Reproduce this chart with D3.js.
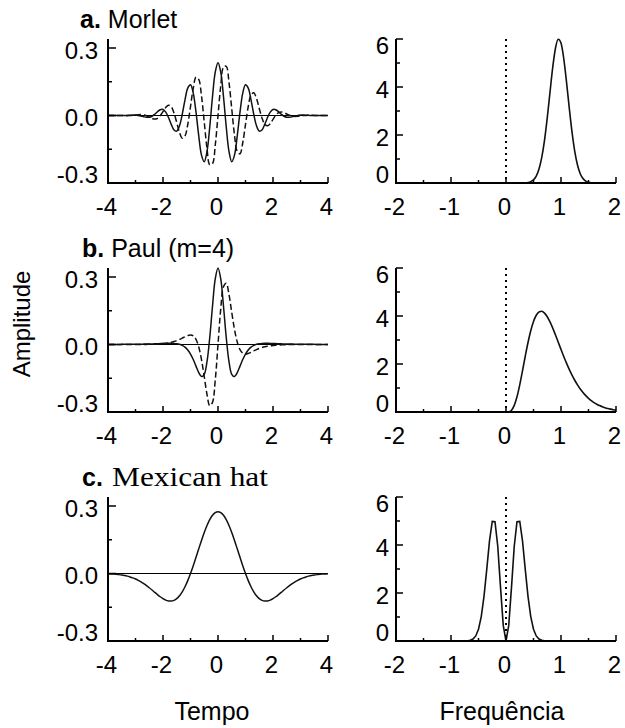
<!DOCTYPE html>
<html><head><meta charset="utf-8">
<script src="https://cdn.jsdelivr.net/npm/d3@7"></script>
<style>
body{margin:0;background:#fff;}
svg text{font-family:"Liberation Sans", Arial, sans-serif; fill:#000;}
</style></head>
<body><svg id="chart" width="625" height="728"></svg>
<script>
// ---------------- data ----------------
const tempo = [-4.0,-3.9,-3.8,-3.7,-3.6,-3.5,-3.4,-3.3,-3.2,-3.1,-3.0,-2.9,-2.8,-2.7,-2.6,-2.5,-2.4,-2.3,-2.2,-2.1,-2.0,-1.9,-1.8,-1.7,-1.6,-1.5,-1.4,-1.3,-1.2,-1.1,-1.0,-0.9,-0.8,-0.7,-0.6,-0.5,-0.4,-0.3,-0.2,-0.1,0,0.1,0.2,0.3,0.4,0.5,0.6,0.7,0.8,0.9,1.0,1.1,1.2,1.3,1.4,1.5,1.6,1.7,1.8,1.9,2.0,2.1,2.2,2.3,2.4,2.5,2.6,2.7,2.8,2.9,3.0,3.1,3.2,3.3,3.4,3.5,3.6,3.7,3.8,3.9,4.0];

const morletReal = [0,0,0,0,0,0,
 0,0.0006,0.0013,0.0019,0.0017,
 0.0004,-0.0022,-0.0054,-0.0080,-0.0078,-0.0034,0.0055,0.0168,0.0259,0.0268,
 0.0151,-0.0090,-0.0396,-0.0643,-0.0695,-0.0458,0.0055,0.0696,0.1219,0.1368,
 0.0995,0.0149,-0.0902,-0.1760,-0.2053,-0.1599,-0.0511,0.0835,0.1930,
 0.235,
 0.1930,0.0835,-0.0511,-0.1599,-0.2053,-0.1760,-0.0902,0.0149,0.0995,
 0.1368,0.1219,0.0696,0.0055,-0.0458,-0.0695,-0.0643,-0.0396,-0.0090,0.0151,
 0.0268,0.0259,0.0168,0.0055,-0.0034,-0.0078,-0.0080,-0.0054,-0.0022,0.0004,
 0.0017,0.0019,0.0013,0.0006,0,
 0,0,0,0,0,0];

const morletImag = [0,0,0,0,0,-0.0004,
 -0.0007,-0.0008,-0.0005,0.0005,0.0020,
 0.0035,0.0042,0.0029,-0.0009,-0.0067,-0.0127,-0.0158,-0.0124,-0.0009,0.0171,
 0.0356,0.0456,0.0388,0.0114,-0.0314,-0.0754,-0.1008,-0.0908,-0.0400,0.0398,
 0.1211,0.1700,0.1603,0.0869,-0.0293,-0.1465,-0.2188,-0.2146,-0.1320,
 0,
 0.1320,0.2146,0.2188,0.1465,0.0293,-0.0869,-0.1603,-0.1700,-0.1211,
 -0.0398,0.0400,0.0908,0.1008,0.0754,0.0314,-0.0114,-0.0388,-0.0456,-0.0356,
 -0.0171,0.0009,0.0124,0.0158,0.0127,0.0067,0.0009,-0.0029,-0.0042,-0.0035,
 -0.0020,-0.0005,0.0005,0.0008,0.0007,
 0.0004,0,0,0,0,0];

const paulReal = [0.0003,0.0003,0.0004,0.0005,0.0005,0.0006,
 0.0007,0.0008,0.0009,0.0010,0.0011,
 0.0013,0.0015,0.0017,0.0020,0.0023,0.0026,0.0030,0.0035,0.0040,0.0045,
 0.0049,0.0052,0.0053,0.0049,0.0036,0.0009,-0.0039,-0.0119,-0.0244,-0.0425,
 -0.0668,-0.0961,-0.1250,-0.1427,-0.1323,-0.0764,0.0310,0.1699,0.2913,
 0.34,
 0.2913,0.1699,0.0310,-0.0764,-0.1323,-0.1427,-0.1250,-0.0961,-0.0668,
 -0.0425,-0.0244,-0.0119,-0.0039,0.0009,0.0036,0.0049,0.0053,0.0052,0.0049,
 0.0045,0.0040,0.0035,0.0030,0.0026,0.0023,0.0020,0.0017,0.0015,0.0013,
 0.0011,0.0010,0.0009,0.0008,0.0007,
 0.0006,0.0005,0.0005,0.0004,0.0003,0.0003];

const paulImag = [0,0,0,0,0,0,
 0,0,0,0,0,
 0.0001,0.0002,0.0003,0.0005,0.0008,0.0011,0.0016,0.0022,0.0030,0.0041,
 0.0056,0.0075,0.0101,0.0134,0.0175,0.0225,0.0284,0.0346,0.0400,0.0425,
 0.0385,0.0227,-0.0110,-0.0671,-0.1427,-0.2218,-0.2723,-0.2572,-0.1585,
 0,
 0.1585,0.2572,0.2723,0.2218,0.1427,0.0671,0.0110,-0.0227,-0.0385,
 -0.0425,-0.0400,-0.0346,-0.0284,-0.0225,-0.0175,-0.0134,-0.0101,-0.0075,-0.0056,
 -0.0041,-0.0030,-0.0022,-0.0016,-0.0011,-0.0008,-0.0005,-0.0003,-0.0002,-0.0001,
 0,0,0,0,0,
 0,0,0,0,0,0];

const mexicanHat = [-0.0014,-0.0020,-0.0027,-0.0037,-0.0050,-0.0068,
 -0.0090,-0.0117,-0.0152,-0.0194,-0.0244,
 -0.0304,-0.0372,-0.0452,-0.0538,-0.0634,-0.0734,-0.0838,-0.0939,-0.1034,-0.1116,
 -0.1181,-0.1219,-0.1225,-0.1193,-0.1116,-0.0991,-0.0815,-0.0589,-0.0315,0,
 0.0348,0.0719,0.1098,0.1470,0.1820,0.2132,0.2393,0.2588,0.2709,
 0.275,
 0.2709,0.2588,0.2393,0.2132,0.1820,0.1470,0.1098,0.0719,0.0348,
 0,-0.0315,-0.0589,-0.0815,-0.0991,-0.1116,-0.1193,-0.1225,-0.1219,-0.1181,
 -0.1116,-0.1034,-0.0939,-0.0838,-0.0734,-0.0634,-0.0538,-0.0452,-0.0372,-0.0304,
 -0.0244,-0.0194,-0.0152,-0.0117,-0.0090,
 -0.0068,-0.0050,-0.0037,-0.0027,-0.0020,-0.0014];

const morletFreq = [-2.0,0.30,0.35,0.40,0.45,0.50,0.55,0.60,0.65,0.70,0.75,0.80,0.85,0.90,0.95,1.00,1.05,1.10,1.15,1.20,1.25,1.30,1.35,1.40,1.45,1.50,1.55,1.60,1.65,1.70,2.0];
const morletSpec = [0,0,0.007,0.021,0.056,0.133,0.291,0.582,1.064,1.777,2.713,3.784,4.826,5.624,5.989,5.830,5.186,4.216,3.133,2.128,1.321,0.749,0.388,0.184,0.080,0.032,0.011,0.004,0.001,0,0];

const paulFreq = [-2.0,0,0.05,0.10,0.15,0.20,0.25,0.30,0.35,0.40,0.45,0.50,0.55,0.60,0.65,0.70,0.75,0.80,0.85,0.90,0.95,1.00,1.05,1.10,1.15,1.20,1.25,1.30,1.35,1.40,1.45,1.50,1.55,1.60,1.65,1.70,1.75,1.80,1.85,1.90,1.95,2.00];
const paulSpec = [0,0,0.0064,0.0745,0.2753,0.6358,1.1336,1.717,2.323,2.895,3.387,3.771,4.032,4.171,4.196,4.122,3.968,3.752,3.493,3.206,2.907,2.608,2.315,2.036,1.776,1.538,1.323,1.130,0.960,0.811,0.681,0.570,0.474,0.393,0.325,0.268,0.219,0.179,0.146,0.119,0.096,0.078];

const mexFreq = [-2.0,-0.80,-0.75,-0.70,-0.65,-0.60,-0.55,-0.50,-0.45,-0.40,-0.35,-0.30,-0.25,-0.20,-0.15,-0.10,-0.05,0,0.05,0.10,0.15,0.20,0.25,0.30,0.35,0.40,0.45,0.50,0.55,0.60,0.65,0.70,0.75,0.80,2.0];
const mexSpec = [0,0,0.002,0.008,0.028,0.081,0.211,0.492,1.018,1.860,2.986,4.168,4.981,4.970,3.949,2.246,0.651,0,0.651,2.246,3.949,4.970,4.981,4.168,2.986,1.860,1.018,0.492,0.211,0.081,0.028,0.008,0.002,0,0];

const tempoTicks = [-4,-2,0,2,4];
const tempoMinor = [-3,-1,1,3];
const freqTicks = [-2,-1,0,1,2];
const freqMinor = [-1.5,-0.5,0.5,1.5];
const ampTicks = [-0.3,0,0.3];
const ampMinor = [-0.15,0.15];
const specTicks = [0,2,4,6];
const specMinor = [1,3,5];

const panelLetters = ["a.","b.","c."];
const panelNames = ["Morlet","Paul (m=4)","Mexican hat"];
const xTitles = ["Tempo","Frequência"];
const yTitle = "Amplitude";

// ---------------- layout ----------------
const svg = d3.select("#chart");
const rowTops = [39, 268, 497];
const panelH = 144;
const leftRange = [108, 328];
const rightRange = [396, 616];
const tickFont = 24;

const xTime = d3.scaleLinear().domain([-4,4]).range(leftRange);
const xFreq = d3.scaleLinear().domain([-2,2]).range(rightRange);

const fmtInt = v => String(v);
const fmtOne = v => v.toFixed(1);

const rows = [
  {time:[{y:morletReal,dash:null},{y:morletImag,dash:"6,3"}], sx:morletFreq, sy:morletSpec, curve:d3.curveMonotoneX},
  {time:[{y:paulReal,dash:null},{y:paulImag,dash:"6,3"}], sx:paulFreq, sy:paulSpec, curve:d3.curveMonotoneX},
  {time:[{y:mexicanHat,dash:null}], sx:mexFreq, sy:mexSpec, curve:d3.curveLinear}
];

function drawAxes(g, x, y, top, bottom, xt, xm, yt, ym, yfmt, yLabelGap, majorY) {
  const x0 = x.range()[0], x1 = x.range()[1];
  g.append("path").attr("d", `M${x0},${top}V${bottom}H${x1}`)
    .attr("fill","none").attr("stroke","#000").attr("stroke-width",2);
  xt.forEach(v => g.append("line").attr("x1",x(v)).attr("x2",x(v)).attr("y1",bottom).attr("y2",bottom-6)
      .attr("stroke","#000").attr("stroke-width",1.5));
  xm.forEach(v => g.append("line").attr("x1",x(v)).attr("x2",x(v)).attr("y1",bottom).attr("y2",bottom-3)
      .attr("stroke","#000").attr("stroke-width",1.5));
  yt.forEach(v => g.append("line").attr("x1",x0).attr("x2",x0+majorY).attr("y1",y(v)).attr("y2",y(v))
      .attr("stroke","#000").attr("stroke-width",1.5));
  ym.forEach(v => g.append("line").attr("x1",x0).attr("x2",x0+4).attr("y1",y(v)).attr("y2",y(v))
      .attr("stroke","#000").attr("stroke-width",1.5));
  xt.forEach(v => g.append("text").attr("x",x(v)-1.5).attr("y",bottom+32)
      .attr("text-anchor","middle").attr("font-size",tickFont).text(fmtInt(v)));
  yt.forEach(v => {
    const c = Math.max(top+7, Math.min(bottom-8, y(v)+2.5));
    g.append("text").attr("x",x0-yLabelGap).attr("y",c).attr("dy","0.35em")
      .attr("text-anchor","end").attr("font-size",tickFont).text(yfmt(v));
  });
}

rows.forEach((r, i) => {
  const top = rowTops[i], bottom = top + panelH;
  const yAmp = d3.scaleLinear().domain([-0.3,0.34]).range([bottom, top]);
  const ySpec = d3.scaleLinear().domain([0,6]).range([bottom, top]);
  const g = svg.append("g");

  if (i < 2) {
    const t = g.append("text").attr("x", i===0 ? 80 : 82).attr("y", top-11).attr("font-size",25);
    t.append("tspan").attr("font-weight","bold").text(panelLetters[i]);
    t.append("tspan").text(" " + panelNames[i]);
  } else {
    g.append("text").attr("x",82).attr("y",top-11).attr("font-size",25).attr("font-weight","bold").text(panelLetters[i]);
    g.append("text").attr("x",112).attr("y",top-11).attr("font-size",27)
      .style("font-family","'Liberation Serif','Times New Roman',serif")
      .attr("textLength",156).attr("lengthAdjust","spacingAndGlyphs").text(panelNames[i]);
  }

  // left (time) panel
  g.append("line").attr("x1",leftRange[0]).attr("x2",leftRange[1]).attr("y1",yAmp(0)).attr("y2",yAmp(0))
    .attr("stroke","#000").attr("stroke-width",1.2);
  r.time.forEach(s => {
    const ln = d3.line().x((d,k)=>xTime(tempo[k])).y(d=>yAmp(d)).curve(d3.curveCatmullRom.alpha(0.5));
    g.append("path").attr("d", ln(s.y)).attr("fill","none").attr("stroke","#111")
      .attr("stroke-width",1.5).attr("stroke-dasharray", s.dash);
  });
  drawAxes(g, xTime, yAmp, top, bottom, tempoTicks, tempoMinor, ampTicks, ampMinor, fmtOne, 10, 8);

  // right (frequency) panel
  g.append("line").attr("x1",xFreq(0)).attr("x2",xFreq(0)).attr("y1",top).attr("y2",bottom)
    .attr("stroke","#000").attr("stroke-width",2).attr("stroke-dasharray","2,4");
  const sl = d3.line().x((d,k)=>xFreq(r.sx[k])).y(d=>ySpec(d)).curve(r.curve);
  g.append("path").attr("d", sl(r.sy)).attr("fill","none").attr("stroke","#111").attr("stroke-width",1.6);
  drawAxes(g, xFreq, ySpec, top, bottom, freqTicks, freqMinor, specTicks, specMinor, fmtInt, 7, 7);
});

svg.append("text").attr("transform","translate(30,324) rotate(-90)").attr("text-anchor","middle")
  .attr("font-size",24).text(yTitle);
svg.append("text").attr("x",212).attr("y",720).attr("text-anchor","middle").attr("font-size",25).text(xTitles[0]);
svg.append("text").attr("x",502).attr("y",720).attr("text-anchor","middle").attr("font-size",25).text(xTitles[1]);
</script>
</body></html>
